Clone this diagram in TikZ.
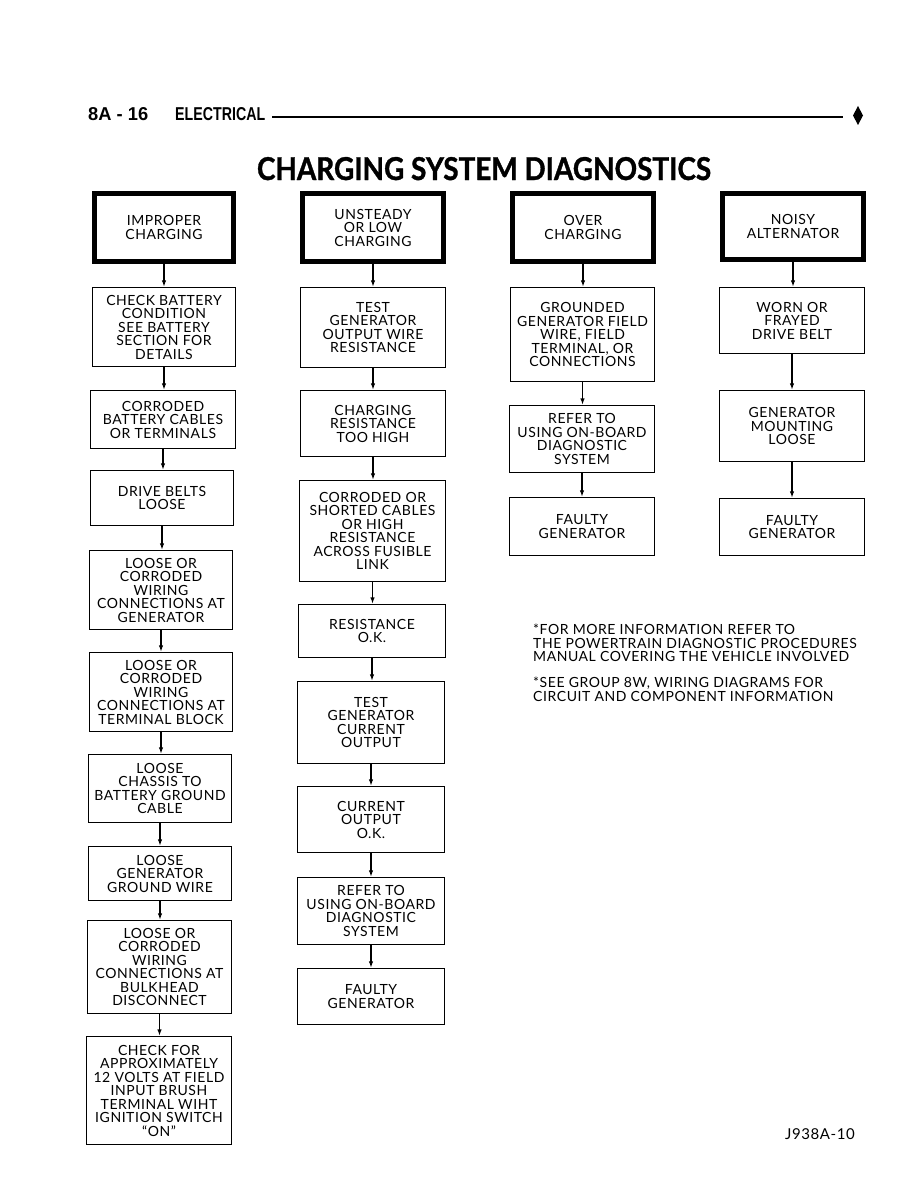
\documentclass[tikz,border=0pt]{standalone}
\usepackage{fontspec}
\setmainfont{Lato}[LetterSpace=4]
\newfontfamily\hdrfont{Liberation Sans}
\newfontfamily\titlefont[FakeBold=1.2]{Lato}
\usetikzlibrary{arrows.meta}
\begin{document}
\begin{tikzpicture}[x=1pt,y=-1pt,
  box/.style={draw, line width=1.3pt, align=center, inner sep=0pt,
    font=\fontsize{14}{13.5}\selectfont},
  headbox/.style={box, line width=5pt},
  arr/.style={line width=1.3pt, -{Latex[length=6.5pt,width=4.5pt]}},
  note/.style={anchor=north west, align=left, inner sep=0pt, font=\fontsize{14}{13.5}\selectfont}]
\useasboundingbox (0,0) rectangle (918,1188);
% header
\node[anchor=base west, inner sep=0pt] (hdrA) at (88,121) {\resizebox{60pt}{13pt}{\hdrfont\bfseries 8A - 16}};
\node[anchor=base west, inner sep=0pt] (hdrB) at (175,121) {\resizebox{90pt}{13pt}{\hdrfont\bfseries ELECTRICAL}};
\draw[line width=2pt] (272,117) -- (843,117);
\fill (858,106) -- (863,115.5) -- (858,125) -- (853,115.5) -- cycle;
\node[anchor=base, inner sep=0pt] (title) at (484,180) {\resizebox{454pt}{23pt}{\titlefont\bfseries CHARGING SYSTEM DIAGNOSTICS}};
% column 1
\node[headbox, minimum width=139pt, minimum height=68pt] (a1) at (164,227.5) {IMPROPER\\CHARGING};
\node[box, minimum width=143pt, minimum height=79pt] (a2) at (164,327) {CHECK BATTERY\\CONDITION\\SEE BATTERY\\SECTION FOR\\DETAILS};
\node[box, minimum width=145pt, minimum height=58pt] (a3) at (163,419.5) {CORRODED\\BATTERY CABLES\\OR TERMINALS};
\node[box, minimum width=143pt, minimum height=55pt] (a4) at (162,498) {DRIVE BELTS\\LOOSE};
\node[box, minimum width=143pt, minimum height=79pt] (a5) at (161,590) {LOOSE OR\\CORRODED\\WIRING\\CONNECTIONS AT\\GENERATOR};
\node[box, minimum width=143pt, minimum height=79pt] (a6) at (161,692) {LOOSE OR\\CORRODED\\WIRING\\CONNECTIONS AT\\TERMINAL BLOCK};
\node[box, minimum width=143pt, minimum height=68pt] (a7) at (160,788.5) {LOOSE\\CHASSIS TO\\BATTERY GROUND\\CABLE};
\node[box, minimum width=143pt, minimum height=54pt] (a8) at (160,873.5) {LOOSE\\GENERATOR\\GROUND WIRE};
\node[box, minimum width=144pt, minimum height=93pt] (a9) at (159.5,967) {LOOSE OR\\CORRODED\\WIRING\\CONNECTIONS AT\\BULKHEAD\\DISCONNECT};
\node[box, minimum width=145pt, minimum height=108pt] (a10) at (159,1090.5) {CHECK FOR\\APPROXIMATELY\\12 VOLTS AT FIELD\\INPUT BRUSH\\TERMINAL WIHT\\IGNITION SWITCH\\``ON''};
% column 2
\node[headbox, minimum width=141pt, minimum height=68pt] (b1) at (373,227.5) {UNSTEADY\\OR LOW\\CHARGING};
\node[box, minimum width=145pt, minimum height=80pt] (b2) at (373,327.5) {TEST\\GENERATOR\\OUTPUT WIRE\\RESISTANCE};
\node[box, minimum width=145pt, minimum height=66pt] (b3) at (373,423.5) {CHARGING\\RESISTANCE\\TOO HIGH};
\node[box, minimum width=146pt, minimum height=101pt] (b4) at (372.5,531) {CORRODED OR\\SHORTED CABLES\\OR HIGH\\RESISTANCE\\ACROSS FUSIBLE\\LINK};
\node[box, minimum width=147pt, minimum height=53pt] (b5) at (372,631) {RESISTANCE\\O.K.};
\node[box, minimum width=147pt, minimum height=82pt] (b6) at (371,722.5) {TEST\\GENERATOR\\CURRENT\\OUTPUT};
\node[box, minimum width=147pt, minimum height=66pt] (b7) at (371,819.5) {CURRENT\\OUTPUT\\O.K.};
\node[box, minimum width=147pt, minimum height=67pt] (b8) at (371,911) {REFER TO\\USING ON-BOARD\\DIAGNOSTIC\\SYSTEM};
\node[box, minimum width=147pt, minimum height=56pt] (b9) at (371,996.5) {FAULTY\\GENERATOR};
% column 3
\node[headbox, minimum width=141pt, minimum height=68pt] (c1) at (583,227.5) {OVER\\CHARGING};
\node[box, minimum width=144pt, minimum height=94pt] (c2) at (582.5,334.5) {GROUNDED\\GENERATOR FIELD\\WIRE, FIELD\\TERMINAL, OR\\CONNECTIONS};
\node[box, minimum width=145pt, minimum height=67pt] (c3) at (582,439) {REFER TO\\USING ON-BOARD\\DIAGNOSTIC\\SYSTEM};
\node[box, minimum width=145pt, minimum height=58pt] (c4) at (582,526.5) {FAULTY\\GENERATOR};
% column 4
\node[headbox, minimum width=141pt, minimum height=66pt] (d1) at (793,226.5) {NOISY\\ALTERNATOR};
\node[box, minimum width=145pt, minimum height=66pt] (d2) at (792,320.5) {WORN OR\\FRAYED\\DRIVE BELT};
\node[box, minimum width=145pt, minimum height=71pt] (d3) at (792,426) {GENERATOR\\MOUNTING\\LOOSE};
\node[box, minimum width=145pt, minimum height=57pt] (d4) at (792,527) {FAULTY\\GENERATOR};
% arrows
\foreach \p/\q in {a1/a2,a2/a3,a3/a4,a4/a5,a5/a6,a6/a7,a7/a8,a8/a9,a9/a10,
  b1/b2,b2/b3,b3/b4,b4/b5,b5/b6,b6/b7,b7/b8,b8/b9,
  c1/c2,c2/c3,c3/c4,d1/d2,d2/d3,d3/d4}
  \draw[arr] (\p.south) -- (\p.south |- \q.north);
% notes
\node[note] (n1) at (533,624) {*FOR MORE INFORMATION REFER TO\\THE POWERTRAIN DIAGNOSTIC PROCEDURES\\MANUAL COVERING THE VEHICLE INVOLVED};
\node[note] (n2) at (533,677) {*SEE GROUP 8W, WIRING DIAGRAMS FOR\\CIRCUIT AND COMPONENT INFORMATION};
\node[anchor=base, inner sep=0pt, font=\fontsize{15}{15}\selectfont] (code) at (820,1139) {J938A-10};
\end{tikzpicture}
\end{document}
